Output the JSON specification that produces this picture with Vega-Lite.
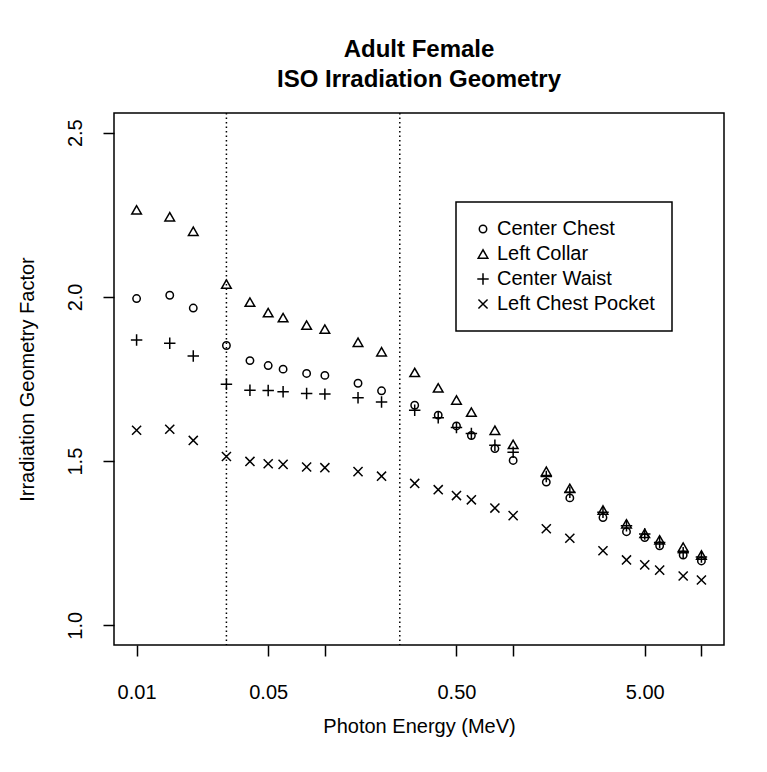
{
  "$schema": "https://vega.github.io/schema/vega-lite/v6.json",
  "width": 610,
  "height": 532,
  "autosize": {"type": "none"},
  "padding": {"left": 114, "top": 113, "right": 43, "bottom": 127},
  "background": "white",
  "title": {
    "text": ["Adult Female", "ISO Irradiation Geometry"],
    "fontSize": 24,
    "fontWeight": "bold",
    "lineHeight": 30,
    "anchor": "middle",
    "baseline": "bottom",
    "offset": -4,
    "color": "black"
  },
  "datasets": {
    "points": [
      {"energy": 0.01, "series": "Left Collar", "factor": 2.265},
      {"energy": 0.015, "series": "Left Collar", "factor": 2.244},
      {"energy": 0.02, "series": "Left Collar", "factor": 2.2},
      {"energy": 0.03, "series": "Left Collar", "factor": 2.039},
      {"energy": 0.04, "series": "Left Collar", "factor": 1.984},
      {"energy": 0.05, "series": "Left Collar", "factor": 1.952},
      {"energy": 0.06, "series": "Left Collar", "factor": 1.937},
      {"energy": 0.08, "series": "Left Collar", "factor": 1.914},
      {"energy": 0.1, "series": "Left Collar", "factor": 1.902},
      {"energy": 0.15, "series": "Left Collar", "factor": 1.862},
      {"energy": 0.2, "series": "Left Collar", "factor": 1.833},
      {"energy": 0.3, "series": "Left Collar", "factor": 1.77},
      {"energy": 0.4, "series": "Left Collar", "factor": 1.723},
      {"energy": 0.5, "series": "Left Collar", "factor": 1.686},
      {"energy": 0.6, "series": "Left Collar", "factor": 1.649},
      {"energy": 0.8, "series": "Left Collar", "factor": 1.594},
      {"energy": 1, "series": "Left Collar", "factor": 1.551},
      {"energy": 1.5, "series": "Left Collar", "factor": 1.469},
      {"energy": 2, "series": "Left Collar", "factor": 1.417},
      {"energy": 3, "series": "Left Collar", "factor": 1.351},
      {"energy": 4, "series": "Left Collar", "factor": 1.309},
      {"energy": 5, "series": "Left Collar", "factor": 1.28},
      {"energy": 6, "series": "Left Collar", "factor": 1.26},
      {"energy": 8, "series": "Left Collar", "factor": 1.238},
      {"energy": 10, "series": "Left Collar", "factor": 1.214},
      {"energy": 0.01, "series": "Center Chest", "factor": 1.995},
      {"energy": 0.015, "series": "Center Chest", "factor": 2.005},
      {"energy": 0.02, "series": "Center Chest", "factor": 1.966},
      {"energy": 0.03, "series": "Center Chest", "factor": 1.852},
      {"energy": 0.04, "series": "Center Chest", "factor": 1.806},
      {"energy": 0.05, "series": "Center Chest", "factor": 1.791},
      {"energy": 0.06, "series": "Center Chest", "factor": 1.78},
      {"energy": 0.08, "series": "Center Chest", "factor": 1.767},
      {"energy": 0.1, "series": "Center Chest", "factor": 1.761},
      {"energy": 0.15, "series": "Center Chest", "factor": 1.737},
      {"energy": 0.2, "series": "Center Chest", "factor": 1.714},
      {"energy": 0.3, "series": "Center Chest", "factor": 1.67},
      {"energy": 0.4, "series": "Center Chest", "factor": 1.64},
      {"energy": 0.5, "series": "Center Chest", "factor": 1.607},
      {"energy": 0.6, "series": "Center Chest", "factor": 1.578},
      {"energy": 0.8, "series": "Center Chest", "factor": 1.538},
      {"energy": 1, "series": "Center Chest", "factor": 1.502},
      {"energy": 1.5, "series": "Center Chest", "factor": 1.436},
      {"energy": 2, "series": "Center Chest", "factor": 1.388},
      {"energy": 3, "series": "Center Chest", "factor": 1.328},
      {"energy": 4, "series": "Center Chest", "factor": 1.285},
      {"energy": 5, "series": "Center Chest", "factor": 1.267},
      {"energy": 6, "series": "Center Chest", "factor": 1.242},
      {"energy": 8, "series": "Center Chest", "factor": 1.214},
      {"energy": 10, "series": "Center Chest", "factor": 1.196},
      {"energy": 0.01, "series": "Center Waist", "factor": 1.869},
      {"energy": 0.015, "series": "Center Waist", "factor": 1.859},
      {"energy": 0.02, "series": "Center Waist", "factor": 1.82},
      {"energy": 0.03, "series": "Center Waist", "factor": 1.734},
      {"energy": 0.04, "series": "Center Waist", "factor": 1.716},
      {"energy": 0.05, "series": "Center Waist", "factor": 1.715},
      {"energy": 0.06, "series": "Center Waist", "factor": 1.711},
      {"energy": 0.08, "series": "Center Waist", "factor": 1.706},
      {"energy": 0.1, "series": "Center Waist", "factor": 1.704},
      {"energy": 0.15, "series": "Center Waist", "factor": 1.693},
      {"energy": 0.2, "series": "Center Waist", "factor": 1.68},
      {"energy": 0.3, "series": "Center Waist", "factor": 1.655},
      {"energy": 0.4, "series": "Center Waist", "factor": 1.632},
      {"energy": 0.5, "series": "Center Waist", "factor": 1.602},
      {"energy": 0.6, "series": "Center Waist", "factor": 1.584},
      {"energy": 0.8, "series": "Center Waist", "factor": 1.548},
      {"energy": 1, "series": "Center Waist", "factor": 1.527},
      {"energy": 1.5, "series": "Center Waist", "factor": 1.453},
      {"energy": 2, "series": "Center Waist", "factor": 1.405},
      {"energy": 3, "series": "Center Waist", "factor": 1.344},
      {"energy": 4, "series": "Center Waist", "factor": 1.303},
      {"energy": 5, "series": "Center Waist", "factor": 1.278},
      {"energy": 6, "series": "Center Waist", "factor": 1.252},
      {"energy": 8, "series": "Center Waist", "factor": 1.221},
      {"energy": 10, "series": "Center Waist", "factor": 1.208},
      {"energy": 0.01, "series": "Left Chest Pocket", "factor": 1.594},
      {"energy": 0.015, "series": "Left Chest Pocket", "factor": 1.597},
      {"energy": 0.02, "series": "Left Chest Pocket", "factor": 1.563},
      {"energy": 0.03, "series": "Left Chest Pocket", "factor": 1.514},
      {"energy": 0.04, "series": "Left Chest Pocket", "factor": 1.499},
      {"energy": 0.05, "series": "Left Chest Pocket", "factor": 1.492},
      {"energy": 0.06, "series": "Left Chest Pocket", "factor": 1.49},
      {"energy": 0.08, "series": "Left Chest Pocket", "factor": 1.482},
      {"energy": 0.1, "series": "Left Chest Pocket", "factor": 1.48},
      {"energy": 0.15, "series": "Left Chest Pocket", "factor": 1.468},
      {"energy": 0.2, "series": "Left Chest Pocket", "factor": 1.454},
      {"energy": 0.3, "series": "Left Chest Pocket", "factor": 1.432},
      {"energy": 0.4, "series": "Left Chest Pocket", "factor": 1.413},
      {"energy": 0.5, "series": "Left Chest Pocket", "factor": 1.395},
      {"energy": 0.6, "series": "Left Chest Pocket", "factor": 1.382},
      {"energy": 0.8, "series": "Left Chest Pocket", "factor": 1.357},
      {"energy": 1, "series": "Left Chest Pocket", "factor": 1.334},
      {"energy": 1.5, "series": "Left Chest Pocket", "factor": 1.294},
      {"energy": 2, "series": "Left Chest Pocket", "factor": 1.265},
      {"energy": 3, "series": "Left Chest Pocket", "factor": 1.227},
      {"energy": 4, "series": "Left Chest Pocket", "factor": 1.199},
      {"energy": 5, "series": "Left Chest Pocket", "factor": 1.184},
      {"energy": 6, "series": "Left Chest Pocket", "factor": 1.168},
      {"energy": 8, "series": "Left Chest Pocket", "factor": 1.15},
      {"energy": 10, "series": "Left Chest Pocket", "factor": 1.138}
    ],
    "vlines": [
      {"energy": 0.03},
      {"energy": 0.25}
    ]
  },
  "layer": [
    {
      "data": {"name": "vlines"},
      "mark": {"type": "rule", "color": "black", "strokeWidth": 1.5, "strokeDash": [1.5, 3]},
      "encoding": {
        "x": {"field": "energy", "type": "quantitative"}
      }
    },
    {
      "data": {"name": "points"},
      "mark": {"type": "point", "filled": false, "stroke": "black", "strokeWidth": 1.5, "opacity": 1},
      "encoding": {
        "x": {
          "field": "energy",
          "type": "quantitative",
          "scale": {"type": "log", "domain": [0.007586, 13.18], "nice": false, "zero": false},
          "axis": {
            "title": "Photon Energy (MeV)",
            "values": [0.01, 0.05, 0.1, 0.5, 1, 5, 10],
            "labelExpr": "indexof([0.01, 0.05, 0.5, 5], datum.value) >= 0 ? format(datum.value, '.2f') : ''",
            "labelPadding": 26,
            "titlePadding": 14
          }
        },
        "y": {
          "field": "factor",
          "type": "quantitative",
          "scale": {"domain": [0.94, 2.56], "nice": false, "zero": false},
          "axis": {
            "title": "Irradiation Geometry Factor",
            "values": [1, 1.5, 2, 2.5],
            "format": ".1f",
            "labelAngle": -90,
            "labelAlign": "center",
            "labelBaseline": "alphabetic",
            "labelPadding": 22,
            "titlePadding": 28
          }
        },
        "shape": {
          "field": "series",
          "type": "nominal",
          "scale": {
            "domain": ["Center Chest", "Left Collar", "Center Waist", "Left Chest Pocket"],
            "range": ["circle", "triangle-up", "M-1,0L1,0M0,-1L0,1", "M-0.7,-0.7L0.7,0.7M-0.7,0.7L0.7,-0.7"]
          },
          "legend": {"title": null}
        },
        "size": {
          "field": "series",
          "type": "nominal",
          "scale": {
            "domain": ["Center Chest", "Left Collar", "Center Waist", "Left Chest Pocket"],
            "range": [55, 169, 144, 144]
          },
          "legend": {"title": null}
        }
      }
    }
  ],
  "config": {
    "font": "Liberation Sans",
    "view": {"stroke": "black", "strokeWidth": 1.5},
    "axis": {
      "domain": false,
      "grid": false,
      "ticks": true,
      "tickColor": "black",
      "tickWidth": 1.5,
      "tickSize": 11,
      "labelFont": "Liberation Sans",
      "labelFontSize": 20,
      "labelColor": "black",
      "titleFont": "Liberation Sans",
      "titleFontSize": 20,
      "titleFontWeight": "normal",
      "titleColor": "black"
    },
    "legend": {
      "orient": "none",
      "legendX": 342,
      "legendY": 89,
      "strokeColor": "black",
      "strokeWidth": 1.5,
      "fillColor": "white",
      "padding": 17,
      "rowPadding": 5,
      "labelFont": "Liberation Sans",
      "labelFontSize": 20,
      "labelColor": "black",
      "labelOffset": 4,
      "symbolStrokeColor": "black",
      "symbolStrokeWidth": 1.5
    }
  }
}
